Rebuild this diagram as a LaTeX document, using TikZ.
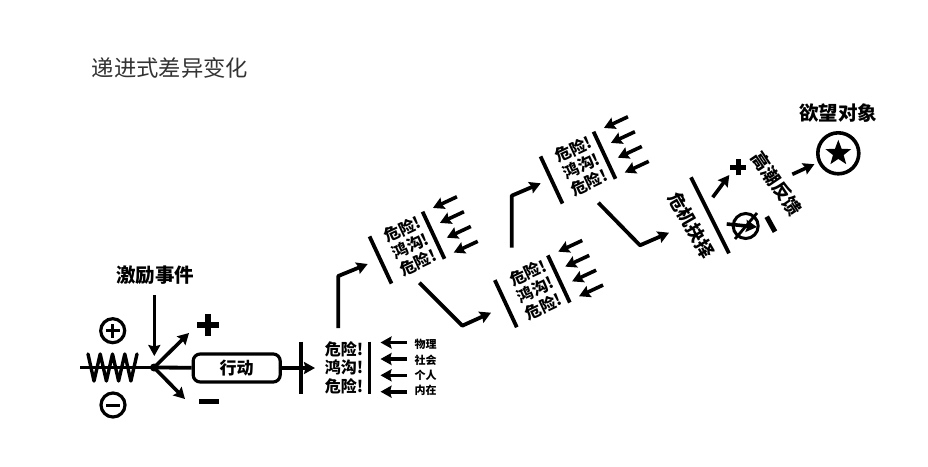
\documentclass[tikz,border=0pt]{standalone}
\usepackage{fontspec}
\setmainfont{Noto Sans CJK SC}
\usetikzlibrary{arrows.meta,shapes.geometric}

\tikzset{
    heavyline/.style={line width=3.8pt, black},
    flowline/.style={heavyline, line join=round, -{Stealth[length=11pt, width=12pt, inset=1.5pt]}},
    threatline/.style={line width=3.6pt, black, -{Stealth[length=11pt, width=12pt, inset=1.5pt]}},
    signcircle/.style={circle, draw, line width=3.2pt, minimum size=24pt, inner sep=0pt},
    headlabel/.style={font=\fontsize{19.5}{21}\selectfont\bfseries, inner sep=0pt},
    dangertext/.style={font=\fontsize{16}{18.5}\selectfont\bfseries, align=center, inner sep=0pt},
    forcelabel/.style={font=\fontsize{11}{12}\selectfont\bfseries, inner sep=0pt},
}

\begin{document}
\begin{tikzpicture}[x=1pt, y=-1pt]
    \useasboundingbox (0, 0) rectangle (928, 466);

    % ===== TITLE =====
    \node[font=\fontsize{22.3}{24}\selectfont, black!80, inner sep=0pt] (title) at (170, 68) {递进式差异变化};

    % ===== LEFT SIDE: inciting event and spring =====
    \node[headlabel] (event) at (155, 275) {激励事件};
    \coordinate (hub) at (154, 367.5);
    \coordinate (lineStart) at (80, 367.5);
    \coordinate (eventTip) at (154.3, 356);
    \draw[threatline] (154.3, 295) -- (eventTip);
    \draw[heavyline] (lineStart) -- (hub);
    % spring across the line
    \draw[line width=3.4pt, line join=round, line cap=round]
        (88, 354) -- (94, 381) -- (100.2, 354) -- (106.4, 381) -- (112.5, 354)
        -- (118.6, 381) -- (124.8, 354) -- (130.9, 381) -- (137, 354);
    \fill (hub) circle (4pt);

    \node[signcircle] (posCircle) at (112.7, 330.7) {};
    \draw[line width=3pt] ([xshift=-7pt]posCircle.center) -- ([xshift=7pt]posCircle.center);
    \draw[line width=3pt] ([yshift=-7pt]posCircle.center) -- ([yshift=7pt]posCircle.center);
    \node[signcircle] (negCircle) at (113, 405) {};
    \draw[line width=3pt] ([xshift=-7pt]negCircle.center) -- ([xshift=7pt]negCircle.center);

    % the two outcomes
    \coordinate (upTip) at (189, 333);
    \coordinate (downTip) at (185, 399);
    \draw[threatline] (hub) -- (upTip);
    \draw[threatline] (hub) -- (downTip);
    \coordinate (bigPlus) at (208, 325);
    \draw[line width=6.5pt] ([xshift=-11pt]bigPlus) -- ([xshift=11pt]bigPlus);
    \draw[line width=6.5pt] ([yshift=-11pt]bigPlus) -- ([yshift=11pt]bigPlus);
    \coordinate (bigMinus) at (209, 401);
    \draw[line width=5pt] ([xshift=-10pt]bigMinus) -- ([xshift=10pt]bigMinus);

    % ===== ACTION BOX =====
    \node[draw, line width=3.2pt, rounded corners=7pt, minimum width=87pt, minimum height=28pt,
          inner sep=0pt, font=\fontsize{17}{18}\selectfont\bfseries] (action) at (236.7, 368) {行动};
    \draw[heavyline] (hub) -- (action);

    % ===== DANGER BLOCKS (local frame, rotated) =====
    \foreach \blockname/\cx/\cy/\rot/\leftbar in {
        blockZero/341/367.5/0/-40,
        blockOne/407.7/247.3/25/-30,
        blockTwo/533/291/25/-30,
        blockThree/578.7/167.3/25/-30} {
        \begin{scope}[shift={(\cx, \cy)}, rotate=\rot]
            \node[dangertext, transform shape] (\blockname) at (3, 0) {危险!\\鸿沟!\\危险!};
            \draw[heavyline] (\leftbar, -26) -- (\leftbar, 26);
            \draw[heavyline] (28.5, -26) -- (28.5, 26);
            % four outside forces
            \foreach \ay in {-25, -8.5, 7.8, 24.2} {
                \draw[threatline] (66, \ay) -- (39.5, \ay);
            }
        \end{scope}
    }

    % labels of the four forces
    \node[forcelabel] (force1) at (425.7, 344) {物理};
    \node[forcelabel] (force2) at (425.7, 360) {社会};
    \node[forcelabel] (force3) at (425.7, 375) {个人};
    \node[forcelabel] (force4) at (425.7, 390) {内在};

    \coordinate (zeroTip) at (315, 368);
    \draw[flowline] (action) -- (zeroTip);

    % ===== CONNECTORS BETWEEN BLOCKS =====
    \coordinate (riseOne) at (338.3, 276);
    \draw[flowline] (338.3, 328) -- (riseOne) -- (367.7, 264);
    \coordinate (dropTwo) at (462.3, 325.7);
    \draw[flowline] (419.3, 282.7) -- (dropTwo) -- (491, 312.7);
    \coordinate (riseThree) at (511.7, 195.7);
    \draw[flowline] (511.7, 247.7) -- (riseThree) -- (540.7, 183.3);
    \coordinate (dropChoice) at (640, 245.3);
    \draw[flowline] (598.3, 202.7) -- (dropChoice) -- (669, 232.7);

    % ===== CRISIS DECISION =====
    \coordinate (choiceTop) at (691, 177.3);
    \coordinate (choiceBot) at (729, 253.3);
    \draw[heavyline] (choiceTop) -- (choiceBot);
    \node[headlabel, font=\fontsize{18}{20}\selectfont\bfseries, rotate=-60] (choice) at (691.7, 225) {危机抉择};

    \coordinate (plusTip) at (729.3, 175);
    \draw[threatline] (712.7, 197.3) -- (plusTip);
    \coordinate (smallPlus) at (738.3, 167.3);
    \draw[line width=4.5pt] ([xshift=-8pt]smallPlus) -- ([xshift=8pt]smallPlus);
    \draw[line width=4.5pt] ([yshift=-8pt]smallPlus) -- ([yshift=8pt]smallPlus);

    % blocked outcome
    \node[circle, draw, line width=3pt, minimum size=25pt, inner sep=0pt] (blocked) at (745.7, 226) {};
    \draw[line width=2.8pt] (735, 239) -- (757, 213);
    \draw[threatline] (726.7, 224) -- (757, 227);
    \draw[line width=5pt] (766.7, 216.7) -- (775, 231.7);

    % ===== CLIMAX AND OBJECT OF DESIRE =====
    \node[headlabel, font=\fontsize{18}{20}\selectfont\bfseries, rotate=-56] (climax) at (776.7, 183.3) {高潮反馈};
    \node[circle, draw, line width=3.6pt, minimum size=41pt, inner sep=0pt] (object) at (838.3, 153.3) {};
    \node[star, star points=5, star point ratio=2.4, fill=black, minimum size=27pt, inner sep=0pt] (objectStar) at (838.3, 153.3) {};
    \node[headlabel] (objectLabel) at (838.3, 113.3) {欲望对象};
    \coordinate (climaxEnd) at (792.3, 174.3);
    \draw[threatline, shorten >=4pt] (climaxEnd) -- (object);

\end{tikzpicture}
\end{document}
